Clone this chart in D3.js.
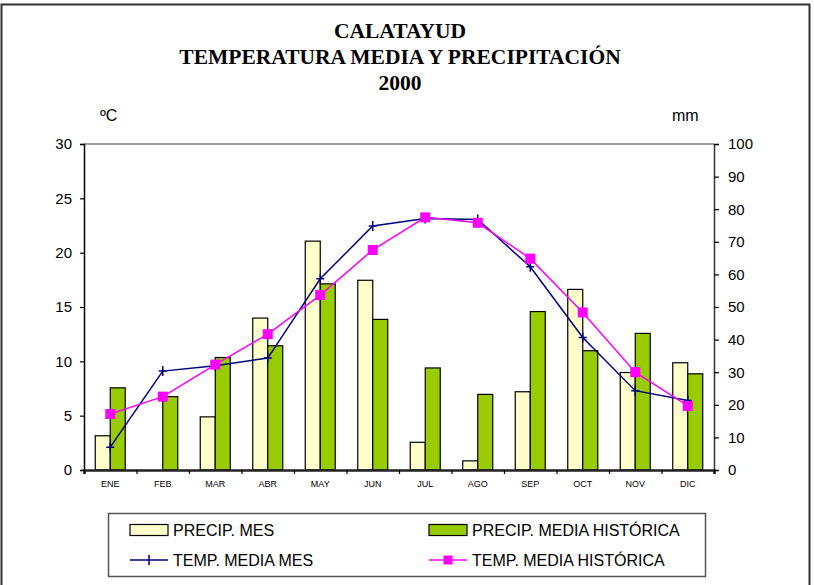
<!DOCTYPE html>
<html>
<head>
<meta charset="utf-8">
<script src="https://cdn.jsdelivr.net/npm/d3@7"></script>
<style>
  html, body { margin: 0; padding: 0; background: #fff; }
  svg { display: block; }
  text { font-family: Arial, "Liberation Sans", sans-serif; fill: #000; }
</style>
</head>
<body>
<svg id="chart" width="814" height="585"></svg>
<script>
// ---- Data ----
const months = ["ENE","FEB","MAR","ABR","MAY","JUN","JUL","AGO","SEP","OCT","NOV","DIC"];
const precipMes = [10.5, 0, 16.3, 46.6, 70.2, 58.2, 8.5, 2.8, 24.0, 55.4, 29.9, 32.9];
const precipHist = [25.2, 22.5, 34.5, 38.1, 57.1, 46.2, 31.3, 23.2, 48.6, 36.6, 41.9, 29.5];
const tempMes = [2.1, 9.1, 9.6, 10.3, 17.6, 22.45, 23.15, 23.05, 18.7, 12.2, 7.3, 6.4];
const tempHist = [5.15, 6.75, 9.7, 12.5, 16.1, 20.25, 23.25, 22.75, 19.45, 14.5, 9.0, 5.9];
const tempTicks = [0, 5, 10, 15, 20, 25, 30];
const precipTicks = [0, 10, 20, 30, 40, 50, 60, 70, 80, 90, 100];
const titleLines = ["CALATAYUD", "TEMPERATURA MEDIA Y PRECIPITACIÓN", "2000"];
const legendItems = [
  { label: "PRECIP. MES", kind: "bar", color: "#FFFFCC" },
  { label: "PRECIP. MEDIA HISTÓRICA", kind: "bar", color: "#99CC00" },
  { label: "TEMP. MEDIA MES", kind: "plus", color: "#000080" },
  { label: "TEMP. MEDIA HISTÓRICA", kind: "square", color: "#FF00FF" }
];

// ---- Layout ----
const svg = d3.select("#chart");
const L = 84, R = 714, T = 144, B = 470;

// outer border
svg.append("rect").attr("x", 1.5).attr("y", 4.5).attr("width", 808).attr("height", 620)
  .attr("fill", "none").attr("stroke", "#333").attr("stroke-width", 2);

// title
svg.append("g").selectAll("text").data(titleLines).join("text")
  .attr("x", 400).attr("y", (d, i) => 38 + i * 26)
  .attr("text-anchor", "middle")
  .style("font-family", "'Times New Roman', 'Liberation Serif', serif")
  .style("font-weight", "bold").style("font-size", "21.5px")
  .text(d => d);

// unit labels
svg.append("text").attr("x", 100).attr("y", 121).style("font-size", "16px").text("ºC");
svg.append("text").attr("x", 672).attr("y", 121).style("font-size", "16px").text("mm");

// scales
const x = d3.scaleBand().domain(months).range([L, R]).padding(0);
const xs = d3.scaleBand().domain(["mes", "hist"]).range([0, x.bandwidth()]).paddingInner(0).paddingOuter(0.75);
const xEdges = d3.scaleLinear().domain([0, 12]).range([L, R]);
const yT = d3.scaleLinear().domain([0, 30]).range([B, T]);
const yP = d3.scaleLinear().domain([0, 100]).range([B, T]);

// top gray line
svg.append("line").attr("x1", L).attr("x2", R).attr("y1", T).attr("y2", T)
  .attr("stroke", "#a0a0a0").attr("stroke-width", 2);

// bars
const barG = svg.append("g");
months.forEach((m, i) => {
  barG.append("rect")
    .attr("x", x(m) + xs("mes")).attr("y", yP(precipMes[i]))
    .attr("width", xs.bandwidth()).attr("height", B - yP(precipMes[i]))
    .attr("fill", "#FFFFCC").attr("stroke", precipMes[i] > 0 ? "#000" : "none").attr("stroke-width", 1.2);
  barG.append("rect")
    .attr("x", x(m) + xs("hist")).attr("y", yP(precipHist[i]))
    .attr("width", xs.bandwidth()).attr("height", B - yP(precipHist[i]))
    .attr("fill", "#99CC00").attr("stroke", "#000").attr("stroke-width", 1.2);
});

// axes
const leftAxis = svg.append("g").attr("transform", `translate(${L},0)`)
  .call(d3.axisLeft(yT).tickValues(tempTicks).tickSize(4).tickPadding(8));
leftAxis.selectAll("text").style("font-size", "15px").style("font-family", "Arial, 'Liberation Sans', sans-serif");

const rightAxis = svg.append("g").attr("transform", `translate(${R},0)`)
  .call(d3.axisRight(yP).tickValues(precipTicks).tickSize(5).tickPadding(9));
rightAxis.selectAll("text").style("font-size", "15px").style("font-family", "Arial, 'Liberation Sans', sans-serif");

[leftAxis, rightAxis].forEach(a => {
  a.select(".domain").attr("stroke", "#000").attr("stroke-width", 1.5);
  a.selectAll(".tick line").attr("stroke", "#000").attr("stroke-width", 1.2);
});
rightAxis.select(".domain").attr("stroke", "#333");

const bottomTicks = svg.append("g").attr("transform", `translate(0,${B})`)
  .call(d3.axisBottom(xEdges).tickValues(d3.range(0, 13)).tickSize(4).tickFormat(""));
bottomTicks.select(".domain").attr("stroke", "#222").attr("stroke-width", 2.5);
bottomTicks.selectAll(".tick line").attr("stroke", "#000").attr("stroke-width", 1.2);

const bottomLabels = svg.append("g").attr("transform", `translate(0,${B})`)
  .call(d3.axisBottom(x).tickSize(0).tickPadding(11));
bottomLabels.select(".domain").remove();
bottomLabels.selectAll("text").style("font-size", "9px").style("font-family", "Arial, 'Liberation Sans', sans-serif").attr("fill", "#222");

// lines
const cx = m => x(m) + x.bandwidth() / 2;
const lineMes = d3.line().x((d, i) => cx(months[i])).y(d => yT(d));
svg.append("path").datum(tempMes).attr("d", lineMes)
  .attr("fill", "none").attr("stroke", "#000080").attr("stroke-width", 1.5);
svg.append("path").datum(tempHist).attr("d", lineMes)
  .attr("fill", "none").attr("stroke", "#FF00FF").attr("stroke-width", 1.5);

// markers
svg.append("g").selectAll("path").data(tempMes).join("path")
  .attr("d", (d, i) => {
    const px = cx(months[i]), py = yT(d);
    return `M${px},${py - 5}V${py + 5}M${px - 4},${py}H${px + 4}`;
  })
  .attr("stroke", "#000080").attr("stroke-width", 1.5).attr("fill", "none");
svg.append("g").selectAll("rect").data(tempHist).join("rect")
  .attr("x", (d, i) => cx(months[i]) - 5).attr("y", d => yT(d) - 5)
  .attr("width", 10).attr("height", 10).attr("fill", "#FF00FF");

// legend
svg.append("rect").attr("x", 108.5).attr("y", 513.5).attr("width", 597).attr("height", 63)
  .attr("fill", "#fff").attr("stroke", "#555").attr("stroke-width", 1.5);
const legPos = [[130, 530], [429, 530], [130, 560], [429, 560]];
legendItems.forEach((it, i) => {
  const [lx, ly] = legPos[i];
  const g = svg.append("g");
  if (it.kind === "bar") {
    g.append("rect").attr("x", lx).attr("y", ly - 5.5).attr("width", 38).attr("height", 11)
      .attr("fill", it.color).attr("stroke", "#000").attr("stroke-width", 1.2);
  } else {
    g.append("line").attr("x1", lx).attr("x2", lx + 38).attr("y1", ly).attr("y2", ly)
      .attr("stroke", it.color).attr("stroke-width", 1.5);
    if (it.kind === "plus") {
      g.append("path").attr("d", `M${lx + 19},${ly - 5}V${ly + 5}`).attr("stroke", it.color).attr("stroke-width", 1.5);
    } else {
      g.append("rect").attr("x", lx + 14.5).attr("y", ly - 4.5).attr("width", 9).attr("height", 9).attr("fill", it.color);
    }
  }
  g.append("text").attr("x", lx + 43).attr("y", ly + 6).style("font-size", "16px").text(it.label);
});
</script>
</body>
</html>
